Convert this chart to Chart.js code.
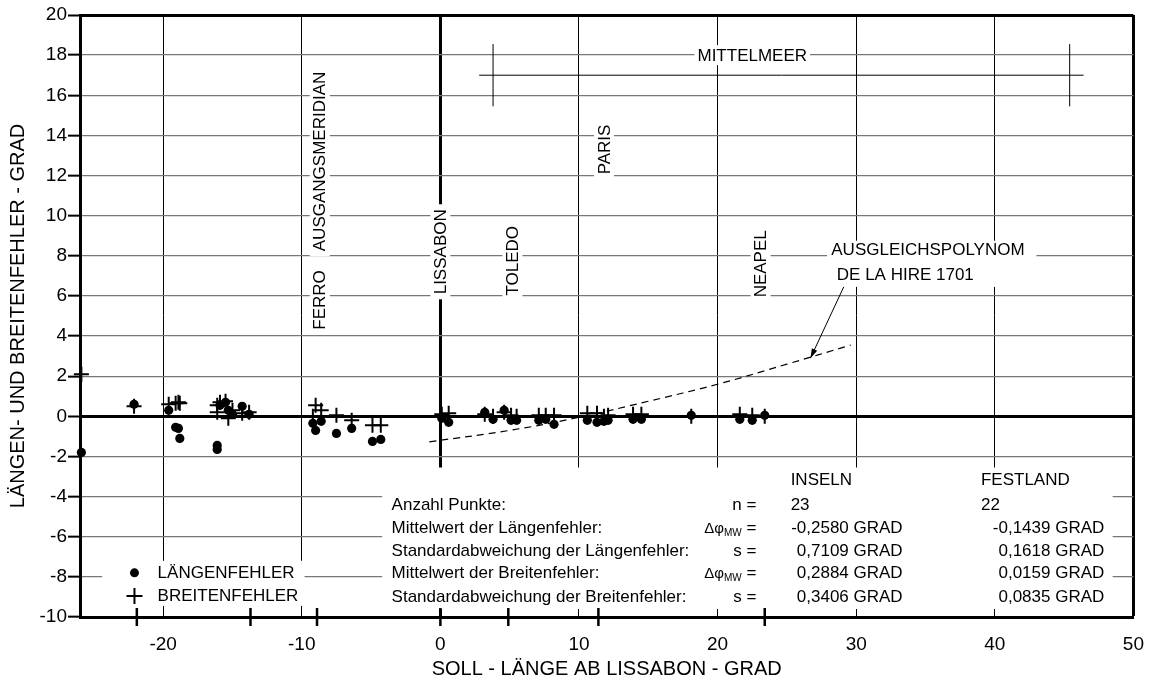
<!DOCTYPE html>
<html>
<head>
<meta charset="utf-8">
<script src="https://cdn.jsdelivr.net/npm/chart.js@4.4.1/dist/chart.umd.min.js"></script>
<style>
  html, body { margin: 0; padding: 0; background: #fff; }
</style>
</head>
<body>
<canvas id="fehlerChart" width="1160" height="681"></canvas>
<script>
// Stationen: Soll-Länge ab Lissabon (Grad), Längenfehler, Breitenfehler
const stationX = [-25.9, -22.1, -19.6, -19.1, -18.9, -18.8, -16.1, -16.1, -15.9, -15.5, -15.3, -15.0, -14.3, -13.8,
                  -9.2, -9.0, -8.6, -7.5, -6.4, -4.9, -4.3,
                  0.1, 0.6, 3.2, 3.8, 4.6, 5.1, 5.5, 7.1, 7.6, 8.2, 10.6, 11.3, 11.8, 12.1, 13.9, 14.5, 18.1, 21.6, 22.5, 23.4];
const laengenFehler = [-1.8, 0.6, 0.3, -0.55, -0.6, -1.1, -1.45, -1.65, 0.55, 0.7, 0.3, 0.1, 0.5, 0.1,
                       -0.35, -0.7, -0.25, -0.85, -0.6, -1.25, -1.15,
                       -0.1, -0.3, 0.2, -0.15, 0.3, -0.2, -0.2, -0.2, -0.15, -0.4, -0.2, -0.3, -0.25, -0.2, -0.15, -0.15, 0.05, -0.15, -0.2, 0.05];
const breitenFehler = [2.1, 0.5, 0.6, 0.65, 0.7, 0.65, 0.2, 0.55, 0.7, 0.75, -0.1, 0.3, 0.15, 0.2,
                       0.0, 0.55, 0.3, 0.05, -0.2, -0.45, -0.45,
                       0.1, 0.15, 0.1, 0.0, 0.2, 0.05, 0.0, 0.05, 0.05, 0.05, 0.15, 0.15, 0.0, 0.05, 0.1, 0.1, 0.0, 0.1, 0.05, 0.0];

// Ausgleichspolynom de la Hire 1701
const polyX = [-0.8, 5, 10, 15, 20, 25, 29.6];
const polyY = [-1.27, -0.7, -0.05, 0.75, 1.6, 2.6, 3.55];

// Markierungen auf der x-Achse
const axisMarkX = [-21.9, -13.7, -8.9, 0, 4.9, 11.4, 23.4];

// Hinweislinie zum Polynom
const leaderX = [29.1, 26.7];
const leaderY = [6.45, 2.9];

// Mittelmeer-Klammer
const mmLineX = [2.8, 46.4];
const mmLineY = 17;
const mmBarX = [3.8, 45.4];
const mmBarY = [15.45, 18.55];

const xTicks = [-20, -10, 0, 10, 20, 30, 40, 50];

// Tabelle
const tableHeads = ['INSELN', 'FESTLAND'];
const tableLabels = ['Anzahl Punkte:', 'Mittelwert der Längenfehler:', 'Standardabweichung der Längenfehler:',
                     'Mittelwert der Breitenfehler:', 'Standardabweichung der Breitenfehler:'];
const tableSymbols = ['n', 'Δφ', 's', 'Δφ', 's'];
const tableSubs = ['', 'MW', '', 'MW', ''];
const inselnValues = ['23', '-0,2580 GRAD', '0,7109 GRAD', '0,2884 GRAD', '0,3406 GRAD'];
const festlandValues = ['22', '-0,1439 GRAD', '0,1618 GRAD', '0,0159 GRAD', '0,0835 GRAD'];

const FONT = '"Liberation Sans", Arial, sans-serif';

// Beschriftungen im Diagramm (Lage in Achsenwerten)
const vLabels = [
    { text: 'FERRO', x: -8.7, y: 5.8 },
    { text: 'AUSGANGSMERIDIAN', x: -8.7, y: 12.7 },
    { text: 'LISSABON', x: 0, y: 8.2 },
    { text: 'TOLEDO', x: 5.2, y: 7.75 },
    { text: 'PARIS', x: 11.8, y: 13.3 },
    { text: 'NEAPEL', x: 23.1, y: 7.6 }
];
const whiteBoxes = [
    { x0: -4.2, x1: 48.5, y0: -2.55, y1: -9.6 },   // Tabelle
    { x0: -24.4, x1: -9.8, y0: -7.2, y1: -9.45 },  // Legende
    { x0: 27.9, x1: 43.0, y0: 8.75, y1: 6.45 }     // Polynom-Text
];
const tableRowY = [-4.43, -5.6, -6.71, -7.84, -9.0];

const overlayPlugin = {
    id: 'overlay',
    beforeDatasetsDraw(chart) {
        const ctx = chart.ctx;
        const xs = chart.scales.x, ys = chart.scales.y;
        const px = v => xs.getPixelForValue(v);
        const py = v => ys.getPixelForValue(v);
        ctx.save();

        // Mittelmeer-Klammer
        ctx.strokeStyle = '#000';
        ctx.lineWidth = 1;
        ctx.beginPath();
        ctx.moveTo(px(mmLineX[0]), py(mmLineY));
        ctx.lineTo(px(mmLineX[1]), py(mmLineY));
        mmBarX.forEach(v => {
            ctx.moveTo(px(v), py(mmBarY[0]));
            ctx.lineTo(px(v), py(mmBarY[1]));
        });
        ctx.stroke();

        // weiße Flächen
        ctx.fillStyle = '#fff';
        whiteBoxes.forEach(b => {
            ctx.fillRect(px(b.x0), py(b.y0), px(b.x1) - px(b.x0), py(b.y1) - py(b.y0));
        });

        ctx.font = '17px ' + FONT;
        ctx.textBaseline = 'middle';

        // senkrechte Beschriftungen
        vLabels.forEach(l => {
            const w = ctx.measureText(l.text).width;
            ctx.save();
            ctx.translate(px(l.x), py(l.y));
            ctx.rotate(-Math.PI / 2);
            ctx.fillStyle = '#fff';
            ctx.fillRect(-w / 2 - 5, -10, w + 10, 20);
            ctx.fillStyle = '#000';
            ctx.textAlign = 'center';
            ctx.fillText(l.text, 0, 1);
            ctx.restore();
        });

        // MITTELMEER
        drawBoxedText(ctx, 'MITTELMEER', px(22.5), py(18), 'center');

        // Polynom-Text
        ctx.fillStyle = '#000';
        ctx.textAlign = 'left';
        ctx.fillText('AUSGLEICHSPOLYNOM', px(28.2), py(8.25));
        ctx.fillText('DE LA HIRE 1701', px(28.6), py(7.05));

        // Tabelle
        ctx.fillText(tableHeads[0], px(25.27), py(-3.19));
        ctx.fillText(tableHeads[1], px(39.0), py(-3.19));
        tableLabels.forEach((t, i) => {
            const yy = py(tableRowY[i]);
            ctx.font = '17px ' + FONT;
            ctx.textAlign = 'left';
            ctx.fillText(t, px(-3.52), yy);
            drawSymbol(ctx, tableSymbols[i], tableSubs[i], px(22.8), yy);
            ctx.font = '17px ' + FONT;
            if (i === 0) {
                ctx.textAlign = 'left';
                ctx.fillText(inselnValues[i], px(25.27), yy);
                ctx.fillText(festlandValues[i], px(39.0), yy);
            } else {
                ctx.textAlign = 'right';
                ctx.fillText(inselnValues[i], px(33.35), yy);
                ctx.fillText(festlandValues[i], px(47.9), yy);
            }
        });

        // Legende
        const lx = px(-22.07);
        ctx.fillStyle = '#000';
        ctx.beginPath();
        ctx.arc(lx, py(-7.8), 4.5, 0, Math.PI * 2);
        ctx.fill();
        ctx.lineWidth = 2;
        ctx.beginPath();
        ctx.moveTo(lx - 8, py(-8.95));
        ctx.lineTo(lx + 8, py(-8.95));
        ctx.moveTo(lx, py(-8.95) - 8);
        ctx.lineTo(lx, py(-8.95) + 8);
        ctx.stroke();
        ctx.textAlign = 'left';
        ctx.font = '17px ' + FONT;
        ctx.fillText('LÄNGENFEHLER', px(-20.4), py(-7.8));
        ctx.fillText('BREITENFEHLER', px(-20.4), py(-8.95));

        ctx.restore();
    },
    afterDatasetsDraw(chart) {
        // Pfeilspitze der Hinweislinie
        const ctx = chart.ctx;
        const xs = chart.scales.x, ys = chart.scales.y;
        const x1 = xs.getPixelForValue(leaderX[0]), y1 = ys.getPixelForValue(leaderY[0]);
        const x2 = xs.getPixelForValue(leaderX[1]), y2 = ys.getPixelForValue(leaderY[1]);
        const a = Math.atan2(y2 - y1, x2 - x1);
        ctx.save();
        ctx.fillStyle = '#000';
        ctx.beginPath();
        ctx.moveTo(x2, y2);
        ctx.lineTo(x2 - 10 * Math.cos(a - 0.3), y2 - 10 * Math.sin(a - 0.3));
        ctx.lineTo(x2 - 10 * Math.cos(a + 0.3), y2 - 10 * Math.sin(a + 0.3));
        ctx.closePath();
        ctx.fill();
        ctx.restore();
    }
};

function drawBoxedText(ctx, text, x, y, align) {
    const w = ctx.measureText(text).width;
    const left = align === 'center' ? x - w / 2 : x;
    ctx.fillStyle = '#fff';
    ctx.fillRect(left - 3, y - 10, w + 6, 20);
    ctx.fillStyle = '#000';
    ctx.textAlign = align;
    ctx.fillText(text, x, y + 1);
}

function drawSymbol(ctx, sym, sub, right, y) {
    const symFont = (sub ? '15px ' : '17px ') + FONT;
    ctx.font = symFont;
    const wSym = ctx.measureText(sym).width;
    ctx.font = '17px ' + FONT;
    const wEq = ctx.measureText(' =').width;
    ctx.font = '10px ' + FONT;
    const wSub = sub ? ctx.measureText(sub).width : 0;
    let x = right - wSym - wSub - wEq;
    ctx.textAlign = 'left';
    ctx.fillStyle = '#000';
    ctx.font = symFont;
    ctx.fillText(sym, x, y);
    x += wSym;
    if (sub) {
        ctx.font = '10px ' + FONT;
        ctx.fillText(sub, x, y + 5);
        x += wSub;
    }
    ctx.font = '17px ' + FONT;
    ctx.fillText(' =', x, y);
}

const pts = (xs, ys) => xs.map((v, i) => ({ x: v, y: ys[i] }));

new Chart(document.getElementById('fehlerChart'), {
    type: 'scatter',
    data: {
        datasets: [
            {
                label: 'LÄNGENFEHLER',
                data: pts(stationX, laengenFehler),
                pointStyle: 'circle',
                pointRadius: 4.6,
                backgroundColor: '#000',
                borderWidth: 0,
                clip: false
            },
            {
                label: 'BREITENFEHLER',
                data: pts(stationX, breitenFehler),
                pointStyle: 'cross',
                pointRadius: 7.5,
                borderColor: '#000',
                borderWidth: 2,
                clip: false
            },
            {
                type: 'line',
                label: 'Ausgleichspolynom',
                data: pts(polyX, polyY),
                borderColor: '#000',
                borderWidth: 1.2,
                borderDash: [7, 5],
                pointRadius: 0,
                tension: 0.4,
                fill: false
            },
            {
                type: 'line',
                label: 'Hinweis',
                data: pts(leaderX, leaderY),
                borderColor: '#000',
                borderWidth: 1,
                pointRadius: 0,
                fill: false
            },
            {
                label: 'Achsmarken',
                data: axisMarkX.map(v => ({ x: v, y: -10 })),
                pointStyle: 'line',
                rotation: 90,
                pointRadius: 9,
                borderColor: '#000',
                borderWidth: 2.5,
                clip: false
            }
        ]
    },
    options: {
        responsive: false,
        animation: false,
        layout: { padding: { left: 0, right: 5, top: 15, bottom: 0 } },
        plugins: {
            legend: { display: false },
            tooltip: { enabled: false }
        },
        scales: {
            x: {
                type: 'linear',
                min: -26,
                max: 50,
                afterBuildTicks: s => { s.ticks = xTicks.map(v => ({ value: v })); },
                afterFit: s => { s.height = 64; },
                grid: {
                    color: '#000',
                    lineWidth: c => (c.tick && (c.tick.value === 0 || c.tick.value === 50)) ? 3 : 1,
                    drawTicks: false
                },
                border: { color: '#000', width: 3 },
                ticks: {
                    color: '#000',
                    padding: 16,
                    font: { family: FONT, size: 19 }
                },
                title: {
                    display: true,
                    text: 'SOLL - LÄNGE AB LISSABON - GRAD',
                    color: '#000',
                    font: { family: FONT, size: 20 },
                    padding: { top: 0, bottom: 0 }
                }
            },
            y: {
                type: 'linear',
                min: -10,
                max: 20,
                afterFit: s => { s.width = 80; },
                grid: {
                    color: c => (c.tick && (c.tick.value === 0 || c.tick.value === 20)) ? '#000' : '#777',
                    lineWidth: c => (c.tick && (c.tick.value === 0 || c.tick.value === 20)) ? 3 : 1.3,
                    tickColor: '#000',
                    tickLength: 12,
                    tickWidth: 2
                },
                border: { color: '#000', width: 3 },
                ticks: {
                    stepSize: 2,
                    color: '#000',
                    padding: 1,
                    font: { family: FONT, size: 19 }
                },
                title: {
                    display: true,
                    text: 'LÄNGEN- UND BREITENFEHLER - GRAD',
                    color: '#000',
                    font: { family: FONT, size: 20 },
                    padding: { top: 6, bottom: 0 }
                }
            }
        }
    },
    plugins: [overlayPlugin]
});
</script>
</body>
</html>
